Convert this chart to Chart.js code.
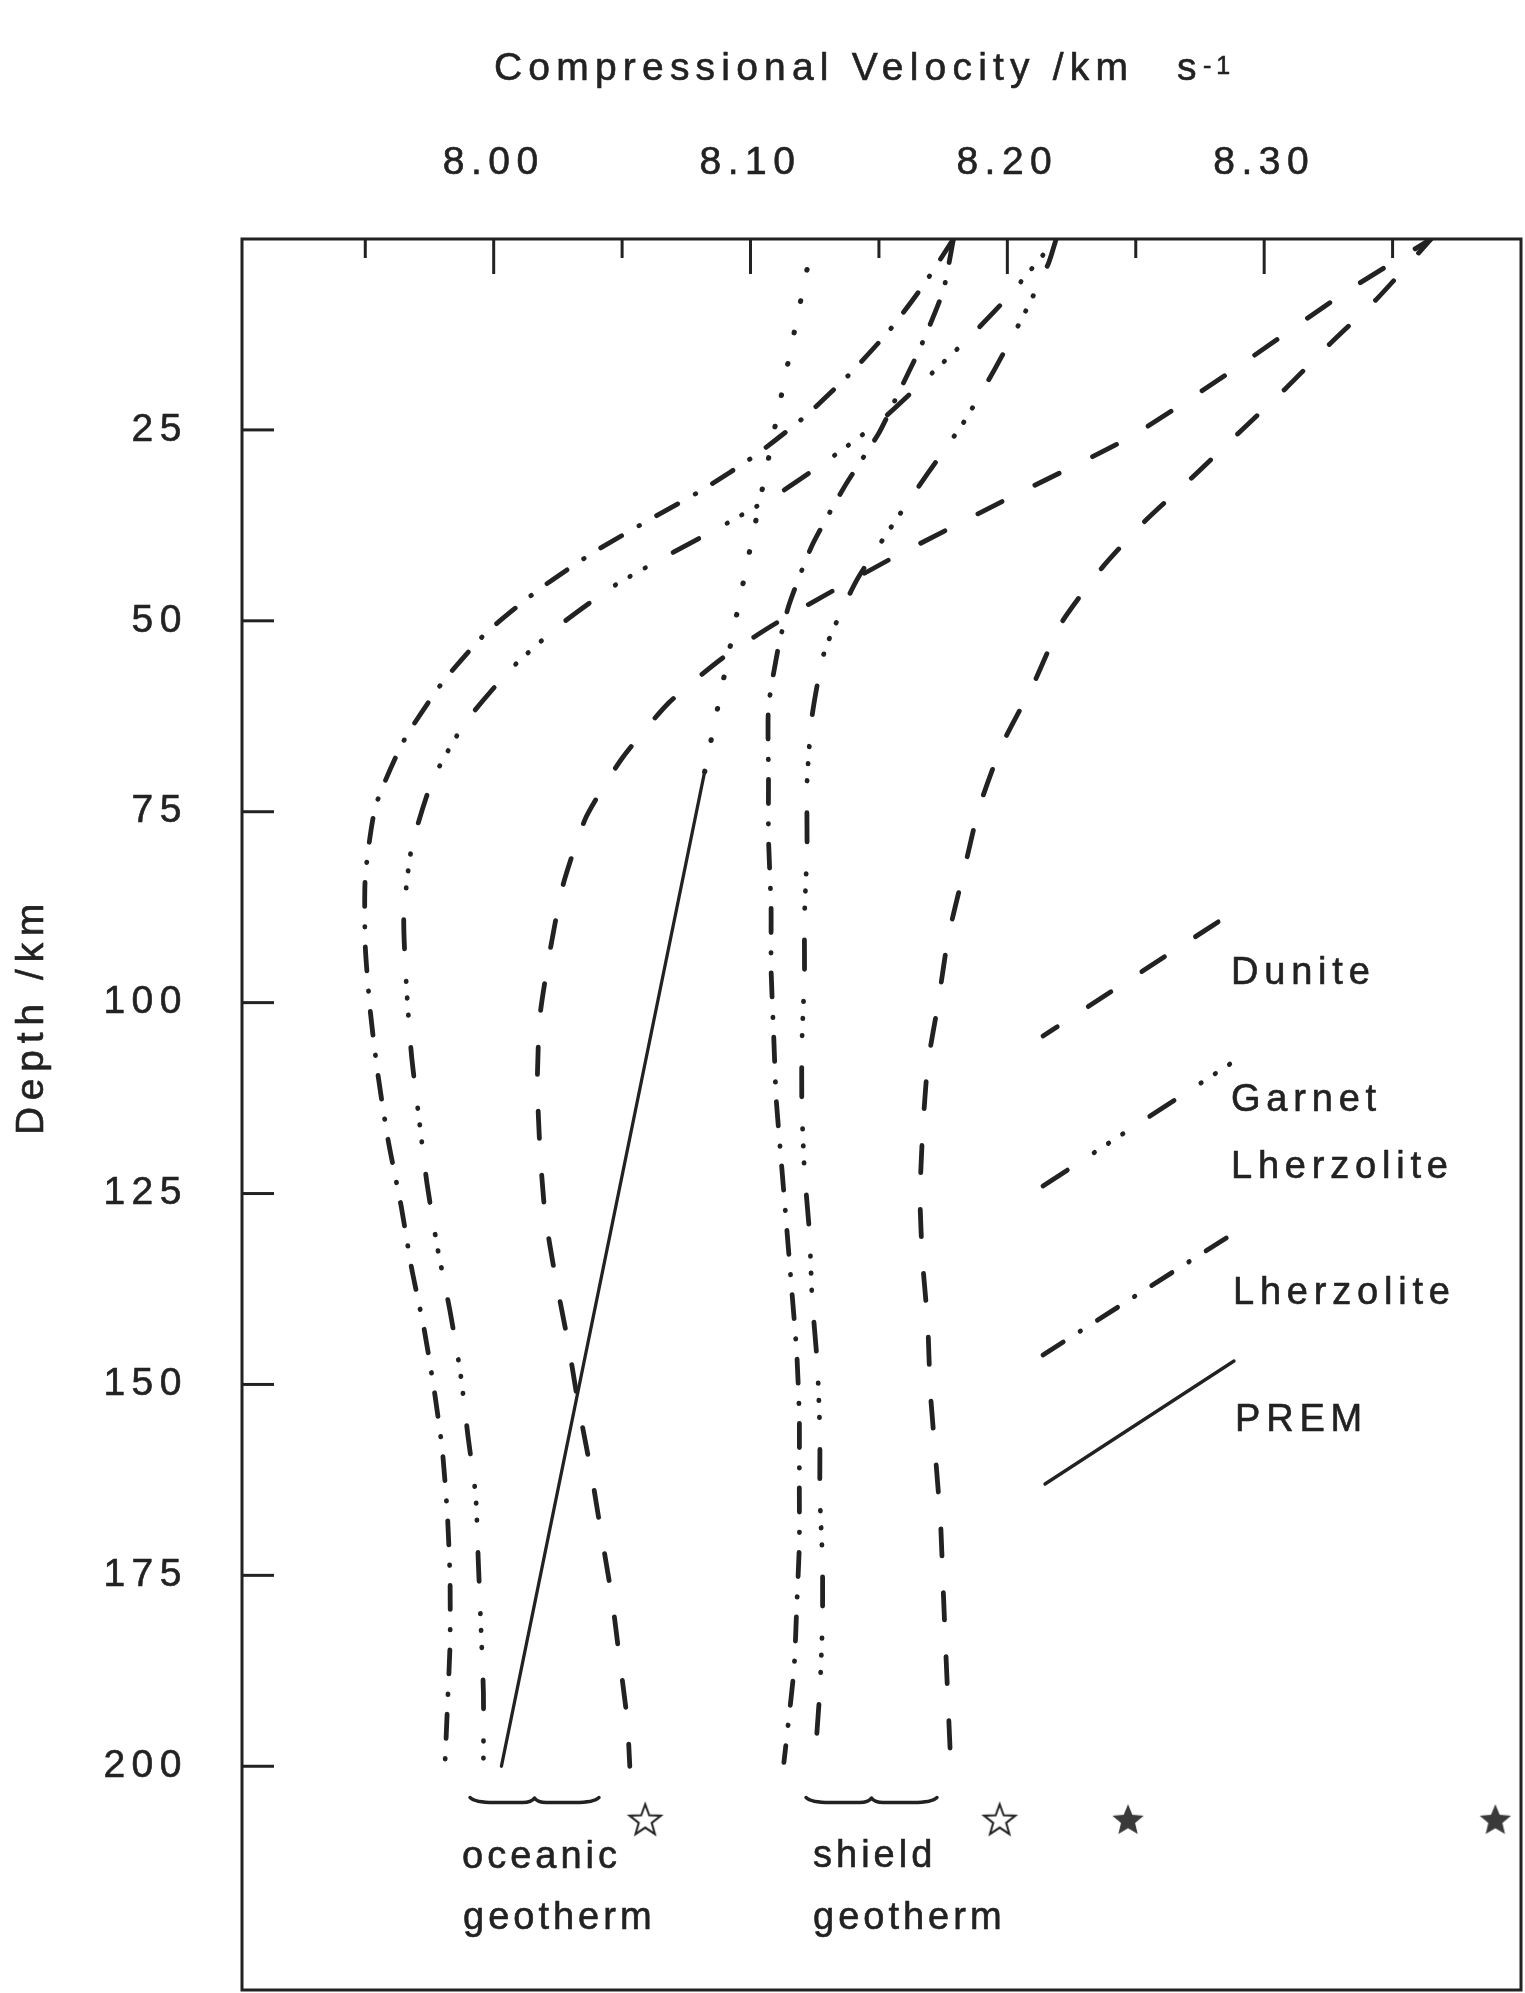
<!DOCTYPE html>
<html>
<head>
<meta charset="utf-8">
<script src="https://cdn.jsdelivr.net/npm/chart.js@4.4.1/dist/chart.umd.min.js"></script>
<style>
  html, body { margin: 0; padding: 0; background: #ffffff; }
  canvas { display: block; }
</style>
</head>
<body>
<canvas id="vp" width="1525" height="1993"></canvas>
<script>
// ---- Axis ticks -------------------------------------------------------
const velocityTicks  = [7.95, 8.00, 8.05, 8.10, 8.15, 8.20, 8.25, 8.30, 8.35];
const velocityLabels = ['', '8.00', '', '8.10', '', '8.20', '', '8.30', ''];
const depthTicks     = [25, 50, 75, 100, 125, 150, 175, 200];

// ---- Dunite (km depth, km/s) ------------------------------------------
const duniteOceanicDepth = [0, 7.1, 16.9, 25.9, 34.2, 42.0, 50.1, 54.9, 60.8, 68.0, 75.7, 84.6, 93.1, 101.8, 110.4, 119.1, 127.7, 135.9, 144.6, 152.7, 161.6, 169.8, 177.9, 185.9, 194.0, 200];
const duniteOceanicVp    = [8.365, 8.331, 8.289, 8.248, 8.199, 8.154, 8.111, 8.089, 8.068, 8.050, 8.036, 8.027, 8.022, 8.018, 8.017, 8.018, 8.020, 8.024, 8.029, 8.033, 8.038, 8.042, 8.046, 8.049, 8.052, 8.053];
const duniteShieldDepth  = [0, 7.8, 13.6, 19.7, 25.1, 30.9, 36.8, 43.0, 50.3, 58.4, 66.2, 74.5, 82.9, 91.4, 100.2, 108.1, 117.1, 125.6, 133.9, 142.1, 150.9, 159.3, 168.1, 176.6, 184.7, 200];
const duniteShieldVp     = [8.365, 8.344, 8.326, 8.308, 8.291, 8.273, 8.254, 8.237, 8.221, 8.210, 8.198, 8.189, 8.183, 8.177, 8.173, 8.169, 8.167, 8.166, 8.167, 8.169, 8.170, 8.172, 8.174, 8.175, 8.176, 8.178];

// ---- Garnet lherzolite ------------------------------------------------
const garnetOceanicDepth = [0, 7.3, 12.6, 18.1, 23.7, 28.5, 33.1, 37.2, 41.2, 45.4, 50.5, 56.2, 63.3, 71.0, 79.8, 88.7, 97.7, 106.9, 115.4, 123.6, 131.9, 140.4, 148.4, 156.8, 164.6, 173.1, 181.5, 190.4, 200];
const garnetOceanicVp    = [8.219, 8.201, 8.186, 8.169, 8.151, 8.132, 8.112, 8.091, 8.069, 8.047, 8.026, 8.007, 7.989, 7.976, 7.968, 7.965, 7.966, 7.968, 7.971, 7.974, 7.978, 7.983, 7.987, 7.990, 7.993, 7.994, 7.995, 7.996, 7.996];
const garnetShieldDepth  = [0, 3.2, 10.2, 17.1, 24.0, 30.7, 37.6, 44.9, 53.8, 62.4, 71.2, 80.0, 88.9, 96.6, 105.4, 113.6, 122.0, 130.4, 138.9, 147.3, 156.2, 164.6, 173.0, 181.2, 190.0, 199.5];
const garnetShieldVp     = [8.219, 8.216, 8.206, 8.195, 8.183, 8.169, 8.155, 8.141, 8.129, 8.124, 8.122, 8.122, 8.121, 8.121, 8.120, 8.120, 8.121, 8.123, 8.124, 8.126, 8.127, 8.127, 8.128, 8.128, 8.127, 8.125];

// ---- Lherzolite -------------------------------------------------------
const lherzOceanicDepth = [0, 6.2, 12.0, 17.9, 23.3, 28.3, 32.7, 36.7, 41.0, 45.8, 51.6, 58.1, 65.7, 74.3, 83.6, 92.6, 101.3, 109.6, 118.2, 126.7, 134.7, 142.9, 151.1, 158.6, 167.2, 175.5, 184.0, 192.1, 200];
const lherzOceanicVp    = [8.179, 8.167, 8.154, 8.138, 8.121, 8.102, 8.082, 8.061, 8.039, 8.018, 7.997, 7.980, 7.965, 7.954, 7.950, 7.950, 7.952, 7.955, 7.959, 7.964, 7.968, 7.973, 7.977, 7.980, 7.982, 7.983, 7.983, 7.982, 7.981];
const lherzShieldDepth  = [0, 6.8, 14.3, 20.6, 25.4, 32.2, 40.1, 47.9, 53.2, 61.3, 70.3, 78.4, 87.5, 95.5, 104.1, 112.6, 120.9, 129.1, 137.4, 145.9, 154.2, 163.0, 171.0, 179.1, 187.0, 193.5, 199.5];
const lherzShieldVp     = [8.179, 8.175, 8.166, 8.157, 8.150, 8.137, 8.124, 8.115, 8.111, 8.107, 8.107, 8.107, 8.108, 8.108, 8.109, 8.110, 8.112, 8.114, 8.116, 8.118, 8.119, 8.119, 8.119, 8.118, 8.117, 8.115, 8.113];

// ---- PREM -------------------------------------------------------------
const premDepth    = [70, 200];
const premVp       = [8.082, 8.003];
const premLidDepth = [4, 70];
const premLidVp    = [8.122, 8.082];

// ---- Reference velocities (stars) -------------------------------------
const openStarVp   = [8.059, 8.197];
const filledStarVp = [8.247, 8.390];
const starDepth    = 207;

// ---- Styling ----------------------------------------------------------
const INK  = '#222222';
const FONT = '"Liberation Sans", Arial, Helvetica, sans-serif';
const LINE_W = 4.8;
const TEXT_STROKE = 0.6;

const DASH      = [27, 37];
const DASH_DOT  = [24, 20, 0.5, 20];
const DASH_3DOT = [29, 32, 0.5, 16.5, 0.5, 16.5, 0.5, 32];
const DOTS      = [0.5, 31.5];

function toPoints(depths, vps) {
  return depths.map((d, i) => ({ x: vps[i], y: d }));
}

function curve(label, depths, vps, dash, extra) {
  return Object.assign({
    label,
    data: toPoints(depths, vps),
    showLine: true,
    borderColor: INK,
    borderWidth: LINE_W,
    borderDash: dash,
    borderCapStyle: 'round',
    borderJoinStyle: 'round',
    tension: 0.2,
    pointRadius: 0,
    fill: false
  }, extra || {});
}

function makeStar(filled) {
  const c = document.createElement('canvas');
  c.width = 38; c.height = 38;
  const g = c.getContext('2d');
  const R = 16.5, r = filled ? 7.4 : 6.8;
  g.beginPath();
  for (let i = 0; i < 10; i++) {
    const rad = i % 2 ? r : R;
    const a = -Math.PI / 2 + i * Math.PI / 5;
    g.lineTo(19 + rad * Math.cos(a), 20 + rad * Math.sin(a));
  }
  g.closePath();
  if (filled) {
    g.fillStyle = '#3a3a3a';
    g.fill();
  } else {
    g.fillStyle = '#ffffff';
    g.fill();
    g.lineWidth = 2;
    g.strokeStyle = INK;
    g.stroke();
  }
  return c;
}

const datasets = [
  curve('Dunite (oceanic geotherm)', duniteOceanicDepth, duniteOceanicVp, DASH, { borderDashOffset: 8 }),
  curve('Dunite (shield geotherm)', duniteShieldDepth, duniteShieldVp, DASH, { borderDashOffset: 8 }),
  curve('Garnet Lherzolite (oceanic geotherm)', garnetOceanicDepth, garnetOceanicVp, DASH_3DOT, { borderDashOffset: 40 }),
  curve('Garnet Lherzolite (shield geotherm)', garnetShieldDepth, garnetShieldVp, DASH_3DOT, { borderDashOffset: 0 }),
  curve('Lherzolite (oceanic geotherm)', lherzOceanicDepth, lherzOceanicVp, DASH_DOT, { borderDashOffset: 0 }),
  curve('Lherzolite (shield geotherm)', lherzShieldDepth, lherzShieldVp, DASH_DOT, { borderDashOffset: 0 }),
  curve('PREM', premDepth, premVp, [], { borderWidth: 3.3, tension: 0 }),
  curve('PREM (upper)', premLidDepth, premLidVp, DOTS, { borderWidth: 5.2, tension: 0 }),
  {
    label: 'open stars',
    data: openStarVp.map(v => ({ x: v, y: starDepth })),
    showLine: false,
    pointStyle: makeStar(false),
    pointRadius: 16
  },
  {
    label: 'filled stars',
    data: filledStarVp.map(v => ({ x: v, y: starDepth })),
    showLine: false,
    pointStyle: makeStar(true),
    pointRadius: 16
  }
];

// Key entries drawn beside the curves, plus free annotations
const keyEntries = [
  { dash: DASH, offset: 10, width: LINE_W, from: [1043, 1036], to: [1221, 920], lines: [['Dunite', 1231, 984]] },
  { dash: DASH_3DOT, offset: 0, width: LINE_W, from: [1043, 1186], to: [1233, 1062], lines: [['Garnet', 1231, 1111], ['Lherzolite', 1231, 1178]] },
  { dash: DASH_DOT, offset: 0, width: LINE_W, from: [1043, 1355], to: [1234, 1233], lines: [['Lherzolite', 1233, 1304]] },
  { dash: [], offset: 0, width: 3.3, from: [1045, 1484], to: [1234, 1361], lines: [['PREM', 1235, 1431]] }
];

const geothermNotes = [
  { brace: [470, 599, 1801], lines: [['oceanic', 462, 1868], ['geotherm', 463, 1929]] },
  { brace: [806, 937, 1801], lines: [['shield', 813, 1867], ['geotherm', 813, 1929]] }
];

function drawBrace(ctx, x0, x1, y) {
  const xm = (x0 + x1) / 2;
  ctx.beginPath();
  ctx.moveTo(x0, y - 3.5);
  ctx.quadraticCurveTo(x0 + 5, y + 1.5, x0 + 24, y + 1.5);
  ctx.lineTo(xm - 12, y + 1.5);
  ctx.quadraticCurveTo(xm - 3, y + 1.5, xm, y - 3);
  ctx.quadraticCurveTo(xm + 3, y + 1.5, xm + 12, y + 1.5);
  ctx.lineTo(x1 - 24, y + 1.5);
  ctx.quadraticCurveTo(x1 - 5, y + 1.5, x1, y - 3.5);
  ctx.stroke();
}

function inkText(ctx, t, x, y) {
  ctx.fillText(t, x, y);
  ctx.strokeText(t, x, y);
}

const framePlugin = {
  id: 'frame',
  beforeDraw(chart) {
    chart.ctx.letterSpacing = '6.5px';
  },
  afterDraw(chart) {
    const { ctx, chartArea: a, scales: { x, y } } = chart;
    ctx.save();
    ctx.strokeStyle = INK;
    ctx.fillStyle = INK;

    // plot frame
    ctx.lineWidth = 3;
    ctx.strokeRect(a.left, a.top, a.right - a.left, a.bottom - a.top);

    // inward tick marks
    velocityTicks.forEach((v, i) => {
      const px = x.getPixelForValue(v);
      const len = velocityLabels[i] ? 35 : 19;
      ctx.beginPath();
      ctx.moveTo(px, a.top);
      ctx.lineTo(px, a.top + len);
      ctx.stroke();
    });
    depthTicks.forEach(d => {
      const py = y.getPixelForValue(d);
      ctx.beginPath();
      ctx.moveTo(a.left, py);
      ctx.lineTo(a.left + 32, py);
      ctx.stroke();
    });

    // text
    ctx.lineWidth = TEXT_STROKE;
    ctx.lineJoin = 'round';
    ctx.textBaseline = 'alphabetic';
    ctx.textAlign = 'left';

    ctx.font = '39px ' + FONT;
    ctx.letterSpacing = '6.2px';
    inkText(ctx, 'Compressional Velocity /km', 494, 80);
    inkText(ctx, 's', 1177, 80);
    ctx.font = '25px ' + FONT;
    ctx.letterSpacing = '5px';
    inkText(ctx, '-1', 1203, 74);

    ctx.save();
    ctx.font = '39px ' + FONT;
    ctx.letterSpacing = '6.7px';
    ctx.translate(43, 1016);
    ctx.rotate(-Math.PI / 2);
    ctx.textAlign = 'center';
    inkText(ctx, 'Depth /km', 0, 0);
    ctx.restore();

    // key
    keyEntries.forEach(k => {
      ctx.lineCap = 'round';
      ctx.lineWidth = k.width;
      ctx.setLineDash(k.dash);
      ctx.lineDashOffset = k.offset;
      ctx.beginPath();
      ctx.moveTo(k.from[0], k.from[1]);
      ctx.lineTo(k.to[0], k.to[1]);
      ctx.stroke();
      ctx.setLineDash([]);
      ctx.lineWidth = TEXT_STROKE;
      ctx.font = '38px ' + FONT;
      ctx.letterSpacing = '5.8px';
      ctx.textAlign = 'left';
      k.lines.forEach(([t, tx, ty]) => inkText(ctx, t, tx, ty));
    });

    // geotherm braces and captions
    geothermNotes.forEach(n => {
      ctx.lineWidth = 3.4;
      ctx.lineCap = 'round';
      drawBrace(ctx, n.brace[0], n.brace[1], n.brace[2]);
      ctx.lineWidth = TEXT_STROKE;
      ctx.font = '38px ' + FONT;
      ctx.letterSpacing = '4px';
      n.lines.forEach(([t, tx, ty]) => inkText(ctx, t, tx, ty));
    });

    ctx.restore();
  }
};

const tickFont = { family: FONT, size: 39 };

new Chart(document.getElementById('vp'), {
  type: 'scatter',
  data: { datasets },
  options: {
    responsive: false,
    animation: false,
    devicePixelRatio: 1,
    events: [],
    layout: { autoPadding: false, padding: { left: 0, top: 0, right: 4, bottom: 3 } },
    plugins: { legend: { display: false }, tooltip: { enabled: false }, title: { display: false } },
    scales: {
      x: {
        type: 'linear',
        position: 'top',
        min: 7.902,
        max: 8.400,
        afterBuildTicks: s => { s.ticks = velocityTicks.map(v => ({ value: v })); },
        afterFit: s => { s.height = 239; s.paddingLeft = 0; s.paddingRight = 0; },
        grid: { display: false, drawTicks: false },
        border: { display: false },
        ticks: {
          autoSkip: false,
          maxRotation: 0,
          padding: 52,
          color: INK,
          textStrokeColor: INK,
          textStrokeWidth: TEXT_STROKE,
          font: tickFont,
          callback: (v, i) => velocityLabels[i]
        }
      },
      y: {
        type: 'linear',
        position: 'left',
        reverse: true,
        min: 0,
        max: 229.3,
        afterBuildTicks: s => { s.ticks = depthTicks.map(v => ({ value: v })); },
        afterFit: s => { s.width = 242; s.paddingTop = 0; s.paddingBottom = 0; },
        grid: { display: false, drawTicks: false },
        border: { display: false },
        ticks: {
          autoSkip: false,
          padding: 54,
          color: INK,
          textStrokeColor: INK,
          textStrokeWidth: TEXT_STROKE,
          font: tickFont,
          callback: v => String(v)
        }
      }
    }
  },
  plugins: [framePlugin]
});
</script>
</body>
</html>
